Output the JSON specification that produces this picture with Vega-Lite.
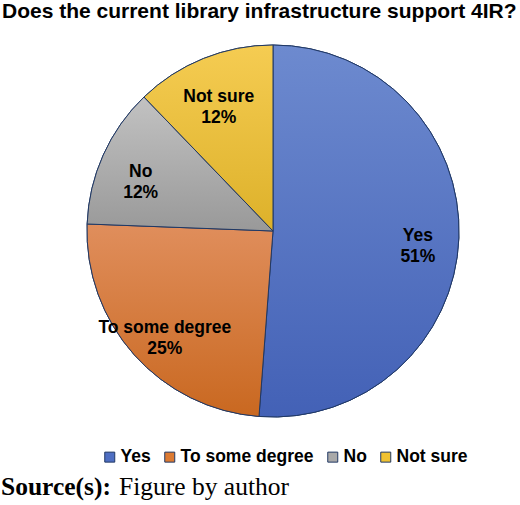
{
  "$schema": "https://vega.github.io/schema/vega-lite/v6.json",
  "width": 494,
  "height": 372,
  "autosize": "none",
  "padding": {"left": 26, "top": 45, "right": 0, "bottom": 88},
  "background": "white",
  "title": {
    "text": "Does the current library infrastructure support 4IR?",
    "anchor": "start",
    "font": "Liberation Sans",
    "fontSize": 21,
    "fontWeight": "bold",
    "color": "black",
    "dx": 1,
    "offset": 21
  },
  "config": {"view": {"stroke": null}},
  "data": {
    "values": [
      {"answer": "Yes", "share": 51.2, "rank": 1, "label": "Yes\n51%"},
      {"answer": "To some degree", "share": 24.4, "rank": 2, "label": "To some degree\n25%"},
      {"answer": "No", "share": 12.2, "rank": 3, "label": "No\n12%"},
      {"answer": "Not sure", "share": 12.2, "rank": 4, "label": "Not sure\n12%"}
    ]
  },
  "layer": [
    {
      "mark": {"type": "arc", "outerRadius": 186, "stroke": "#203864", "strokeWidth": 1},
      "encoding": {
        "theta": {"field": "share", "type": "quantitative", "stack": true},
        "order": {"field": "rank", "type": "quantitative"},
        "color": {
          "field": "answer",
          "type": "nominal",
          "scale": {
            "domain": ["Yes", "To some degree", "No", "Not sure"],
            "range": ["#4e6ec2", "#dc7a32", "#a9a9a9", "#f0c232"]
          },
          "legend": {
            "title": null,
            "orient": "none",
            "direction": "horizontal",
            "legendX": 75,
            "legendY": 403,
            "symbolType": "square",
            "symbolSize": 100,
            "symbolStrokeColor": "#203864",
            "symbolStrokeWidth": 1,
            "symbolOpacity": 1,
            "labelFont": "Liberation Sans",
            "labelFontSize": 17.5,
            "labelFontWeight": "bold",
            "labelColor": "black",
            "labelOffset": 2,
            "columnPadding": 10,
            "labelLimit": 300
          }
        }
      }
    },
    {
      "mark": {"type": "arc", "outerRadius": 186, "stroke": "#203864", "strokeWidth": 1},
      "encoding": {
        "theta": {"field": "share", "type": "quantitative", "stack": true},
        "order": {"field": "rank", "type": "quantitative"},
        "fill": {
          "condition": [
            {"test": "datum.answer === 'Yes'", "value": {"gradient": "linear", "x1": 0, "y1": 0, "x2": 0, "y2": 1, "stops": [{"offset": 0, "color": "#6d8acf"}, {"offset": 1, "color": "#4361b6"}]}},
            {"test": "datum.answer === 'To some degree'", "value": {"gradient": "linear", "x1": 0, "y1": 0, "x2": 0, "y2": 1, "stops": [{"offset": 0, "color": "#e08e5c"}, {"offset": 1, "color": "#c96820"}]}},
            {"test": "datum.answer === 'No'", "value": {"gradient": "linear", "x1": 0, "y1": 0, "x2": 0, "y2": 1, "stops": [{"offset": 0, "color": "#c2c2c2"}, {"offset": 1, "color": "#999999"}]}}
          ],
          "value": {"gradient": "linear", "x1": 0, "y1": 0, "x2": 0, "y2": 1, "stops": [{"offset": 0, "color": "#f5cc52"}, {"offset": 1, "color": "#ddb12a"}]}
        }
      }
    },
    {
      "mark": {
        "type": "text",
        "radius": 145,
        "font": "Liberation Sans",
        "fontSize": 17.5,
        "fontWeight": "bold",
        "color": "black",
        "lineBreak": "\n",
        "lineHeight": 21,
        "align": "center",
        "baseline": "middle"
      },
      "encoding": {
        "theta": {"field": "share", "type": "quantitative", "stack": true},
        "order": {"field": "rank", "type": "quantitative"},
        "text": {"field": "label", "type": "nominal"}
      }
    },
    {
      "data": {"values": [{"t": "Source(s):"}]},
      "mark": {"type": "text", "font": "Liberation Serif", "fontSize": 25.5, "fontWeight": "bold", "color": "black", "align": "left", "baseline": "alphabetic"},
      "encoding": {"text": {"field": "t"}, "x": {"value": -25}, "y": {"value": 450}}
    },
    {
      "data": {"values": [{"t": "Figure by author"}]},
      "mark": {"type": "text", "font": "Liberation Serif", "fontSize": 25.5, "fontWeight": "normal", "color": "black", "align": "left", "baseline": "alphabetic"},
      "encoding": {"text": {"field": "t"}, "x": {"value": 93}, "y": {"value": 450}}
    }
  ]
}
